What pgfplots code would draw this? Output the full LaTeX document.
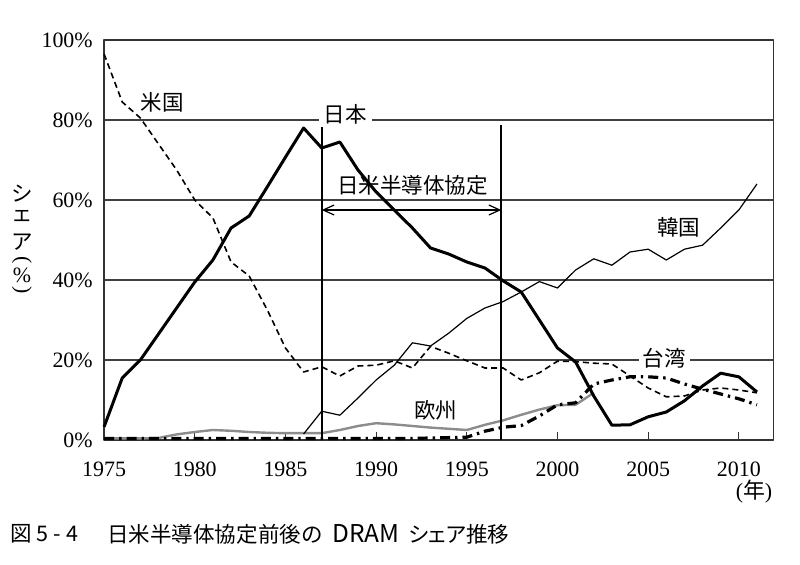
\documentclass[border=0pt]{standalone}
\usepackage{fontspec}
\setmainfont{Liberation Serif}
\newfontfamily\jp{Noto Sans CJK JP}
\newfontfamily\jpp[CharacterWidth=AlternateProportional]{Noto Sans CJK JP}
\usepackage{pgfplots}
\pgfplotsset{compat=1.18}
\usetikzlibrary{arrows.meta}
\begin{document}
\begin{tikzpicture}
\begin{axis}[
  at={(52.05bp,62.5bp)}, anchor=south west,
  scale only axis, width=334.6bp, height=200bp,
  xmin=1975, xmax=2011.9, ymin=0, ymax=100,
  clip=false,
  xtick={1975,1980,...,2010},
  ytick={0,20,...,100},
  ymajorgrids,
  grid style={draw=black!75, line width=0.6bp},
  axis line style={draw=black!80, line width=0.7bp},
  tick align=inside, tick pos=left,
  major tick length=4bp,
  ytick style={draw=none},
  xtick style={draw=black!80, line width=0.6bp},
  /pgf/number format/assume math mode=true,
  /pgf/number format/1000 sep={},
  x tick label style={font=\fontsize{11}{13}\selectfont, anchor=north, inner sep=0pt, yshift=-11bp},
  y tick label style={font=\fontsize{11}{13}\selectfont, anchor=east, inner sep=0pt, xshift=-5.5bp},
  yticklabel={\pgfmathprintnumber{\tick}\%},
  line join=round,
]
% Europe
\addplot[draw=black!45, line width=1.2bp, no marks] coordinates {
(1975,0.4)(1976,0.4)(1977,0.4)(1978,0.5)(1979,1.4)(1980,2.0)(1981,2.5)(1982,2.3)(1983,2.0)(1984,1.8)(1985,1.7)(1986,1.7)(1987,1.7)(1988,2.5)(1989,3.5)(1990,4.2)(1991,3.9)(1992,3.5)(1993,3.1)(1994,2.8)(1995,2.5)(1996,3.8)(1997,4.9)(1998,6.3)(1999,7.6)(2000,8.7)(2001,8.8)(2002,11.8)
};
% Taiwan
\addplot[draw=black, line width=1.6bp, no marks, dash pattern=on 5bp off 2.5bp on 1.2bp off 2.5bp] coordinates {
(1975,0.4)(1976,0.4)(1977,0.4)(1978,0.4)(1979,0.4)(1980,0.4)(1981,0.4)(1982,0.4)(1983,0.4)(1984,0.4)(1985,0.4)(1986,0.4)(1987,0.4)(1988,0.4)(1989,0.4)(1990,0.4)(1991,0.4)(1992,0.4)(1993,0.5)(1994,0.6)(1995,0.7)(1996,2.2)(1997,3.2)(1998,3.6)(1999,6.0)(2000,8.8)(2001,9.3)(2002,14.0)(2003,15.0)(2004,15.8)(2005,15.8)(2006,15.5)(2007,14.0)(2008,12.7)(2009,11.5)(2010,10.3)(2011,8.8)
};
% US
\addplot[draw=black, line width=0.8bp, no marks, dash pattern=on 3bp off 2bp] coordinates {
(1975,96.5)(1976,84.5)(1977,80.5)(1978,74)(1979,67.5)(1980,60)(1981,55.5)(1982,44.5)(1983,41)(1984,32.5)(1985,23)(1986,17)(1987,18.3)(1988,16)(1989,18.5)(1990,18.7)(1991,19.8)(1992,18)(1993,23.4)(1994,21.7)(1995,19.8)(1996,18)(1997,18)(1998,15)(1999,16.8)(2000,19.7)(2001,19.6)(2002,19.2)(2003,19)(2004,16)(2005,13)(2006,10.8)(2007,11)(2008,12.5)(2009,13)(2010,12.5)(2011,11.8)
};
% Korea
\addplot[draw=black, line width=0.6bp, no marks] coordinates {
(1986,1.5)(1987,7.2)(1988,6.2)(1989,10.5)(1990,15)(1991,18.7)(1992,24.3)(1993,23.5)(1994,26.7)(1995,30.4)(1996,33)(1997,34.6)(1998,37)(1999,39.6)(2000,38)(2001,42.5)(2002,45.3)(2003,43.7)(2004,47)(2005,47.7)(2006,45)(2007,47.7)(2008,48.7)(2009,53)(2010,57.5)(2011,64)
};
% Japan
\addplot[draw=black, line width=1.5bp, no marks] coordinates {
(1975,3.3)(1976,15.5)(1977,20)(1978,26.5)(1979,33)(1980,39.5)(1981,45)(1982,53)(1983,56)(1984,63.3)(1985,70.7)(1986,78)(1987,73)(1988,74.5)(1989,67.5)(1990,62)(1991,57.5)(1992,53)(1993,48)(1994,46.5)(1995,44.5)(1996,43)(1997,39.8)(1998,37)(1999,30)(2000,23)(2001,19.5)(2002,11)(2003,3.7)(2004,3.8)(2005,5.8)(2006,7)(2007,9.8)(2008,13.5)(2009,16.7)(2010,15.8)(2011,12)
};
% agreement period
\draw[black, line width=0.8bp] (axis cs:1987,0) -- (axis cs:1987,78.7);
\draw[black, line width=0.8bp] (axis cs:1996.9,0) -- (axis cs:1996.9,78.7);
\draw[line width=0.6bp, {Straight Barb[length=5.5bp,width=5bp]}-{Straight Barb[length=5.5bp,width=5bp]}] (axis cs:1987,57.5) -- (axis cs:1996.9,57.5);
\node[font=\jp\fontsize{10.8}{12}\selectfont, inner sep=0pt] at (axis cs:1992,63.75) {日米半導体協定};
\node[font=\jp\fontsize{10.8}{12}\selectfont, inner sep=0pt] at (axis cs:1978.2,84.5) {米国};
\node[font=\jp\fontsize{10.8}{12}\selectfont, fill=white, inner xsep=2.5bp, inner ysep=1.5bp] at (axis cs:1988.3,81.5) {日本};
\node[font=\jp\fontsize{10.8}{12}\selectfont, inner sep=0pt] at (axis cs:2006.7,53.25) {韓国};
\node[font=\jp\fontsize{10.8}{12}\selectfont, fill=white, inner xsep=2bp, inner ysep=1bp] at (axis cs:2005.9,20.5) {台湾};
\node[font=\jp\fontsize{10.8}{12}\selectfont, inner sep=0pt] at (axis cs:1993.3,7.5) {欧州};
\end{axis}
% y label (vertical)
\begin{scope}[every node/.style={inner sep=0pt, font=\jp\fontsize{10.8}{12}\selectfont}]
\node at (11bp,185.75bp) {シ};
\node at (11bp,174.25bp) {ェ};
\node at (11bp,161.25bp) {ア};
\node[rotate=-90, font=\fontsize{11}{12}\selectfont] at (11bp,152.5bp) {(};
\node[font=\fontsize{11}{12}\selectfont] at (11bp,145bp) {\%};
\node[rotate=-90, font=\fontsize{11}{12}\selectfont] at (11bp,137.5bp) {)};
\end{scope}
% year unit
\node[inner sep=0pt, font=\fontsize{11}{12}\selectfont] at (377bp,36.5bp) {({\jp 年})};
% caption
\begin{scope}[every node/.style={inner sep=0pt, anchor=west, font=\jp\fontsize{10.8}{12}\selectfont}]
\node at (5bp,15.5bp) {図\hspace{2.5bp}5\hspace{2.5bp}-\hspace{2.5bp}4};
\node at (53.5bp,15.5bp) {日米半導体協定前後の};
\node[font=\jp\fontsize{12.3}{13}\selectfont] at (166bp,15.5bp) {DRAM};
\node[font=\jpp\fontsize{10.8}{12}\selectfont] at (204bp,15.5bp) {シェア推移};
\end{scope}
\pgfresetboundingbox
\path[use as bounding box] (0,0) rectangle (400bp,282.5bp);
\end{tikzpicture}
\end{document}
